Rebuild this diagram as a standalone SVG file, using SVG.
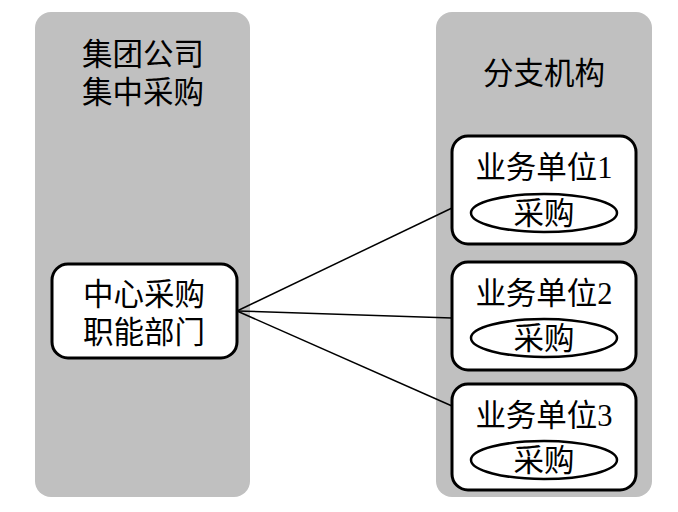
<svg xmlns="http://www.w3.org/2000/svg" width="678" height="512" viewBox="0 0 678 512">
<style>
.panel{fill:#c0c0c0;stroke:none}
.box{fill:#fff;stroke:#000;stroke-width:3}
.ell{fill:#fff;stroke:#000;stroke-width:2.5}
.t{font-family:"Liberation Serif","Noto Sans CJK SC",serif;font-size:30.5px;fill:#000;text-anchor:middle}
.conn{stroke:#000;stroke-width:1.5;fill:none}
</style>
<rect width="678" height="512" fill="#fff"/>
<g id="panel-left">
<rect class="panel" x="35" y="12" width="215" height="485" rx="16"/>
<text class="t" x="143" y="65">集团公司</text>
<text class="t" x="143" y="103">集中采购</text>
</g>
<g id="panel-right">
<rect class="panel" x="436" y="12" width="216" height="485" rx="16"/>
<text class="t" x="544" y="84">分支机构</text>
</g>
<g id="connectors">
<line class="conn" x1="237" y1="311" x2="452" y2="208"/>
<line class="conn" x1="237" y1="311" x2="452" y2="318"/>
<line class="conn" x1="237" y1="311" x2="452" y2="406"/>
</g>
<g id="center">
<rect class="box" x="52" y="264" width="185" height="94" rx="16"/>
<text class="t" x="144" y="305">中心采购</text>
<text class="t" x="144" y="343">职能部门</text>
</g>
<g id="unit1">
<rect class="box" x="452" y="136" width="184" height="108" rx="16"/>
<text class="t" x="544" y="178">业务单位1</text>
<ellipse class="ell" cx="544" cy="213" rx="73" ry="19"/>
<text class="t" x="544" y="224">采购</text>
</g>
<g id="unit2">
<rect class="box" x="452" y="262" width="184" height="108" rx="16"/>
<text class="t" x="544" y="304">业务单位2</text>
<ellipse class="ell" cx="544" cy="338" rx="73" ry="19"/>
<text class="t" x="544" y="349">采购</text>
</g>
<g id="unit3">
<rect class="box" x="452" y="384" width="184" height="106" rx="16"/>
<text class="t" x="544" y="426">业务单位3</text>
<ellipse class="ell" cx="544" cy="460" rx="73" ry="19"/>
<text class="t" x="544" y="471">采购</text>
</g>
</svg>
